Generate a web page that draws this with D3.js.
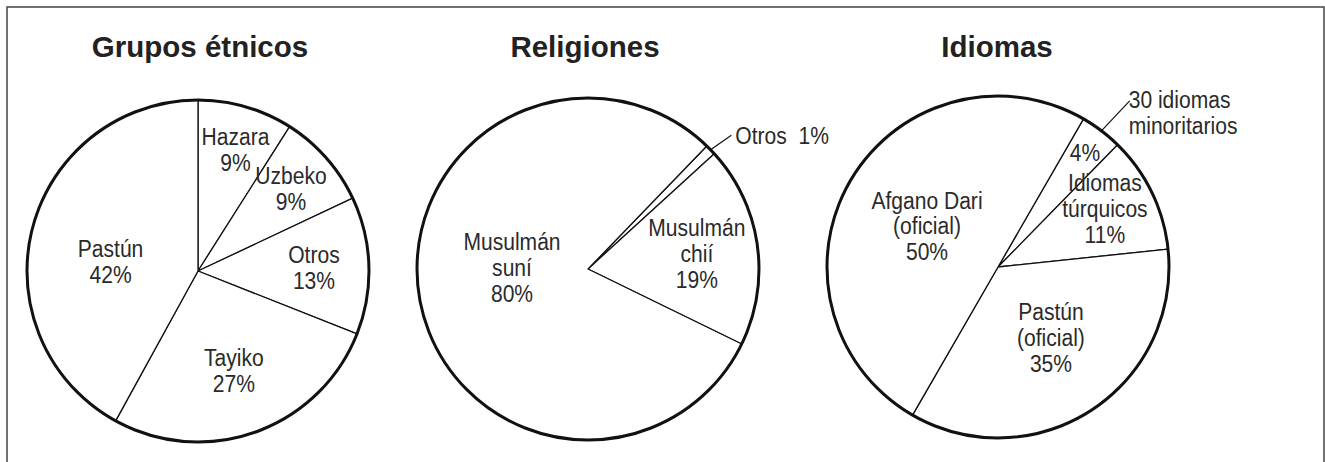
<!DOCTYPE html>
<html>
<head>
<meta charset="utf-8">
<script src="https://cdn.jsdelivr.net/npm/d3@7"></script>
<style>
  body { margin: 0; background: #fff; }
  .title { font-family: "Liberation Sans", Arial, sans-serif; font-weight: bold; font-size: 29.5px; fill: #222; }
  .lbl { font-family: "Liberation Sans", Arial, sans-serif; font-size: 24.5px; fill: #2a2a2a; }
</style>
</head>
<body>
<svg id="chart"></svg>
<script>
// data
const etnicosNames = ["Hazara", "Uzbeko", "Otros", "Tayiko", "Pastún"];
const etnicosValues = [9, 9, 13, 27, 42];

const religionNames = ["Otros", "Musulmán chií", "Musulmán suní"];
const religionValues = [1, 19, 80];

const idiomaNames = ["30 idiomas minoritarios", "Idiomas túrquicos", "Pastún (oficial)", "Afgano Dari (oficial)"];
const idiomaValues = [4, 11, 35, 50];

const titles = ["Grupos étnicos", "Religiones", "Idiomas"];

// layout
const W = 1325, H = 462;
const svg = d3.select("#chart").attr("width", W).attr("height", H);

svg.append("path")
    .attr("d", `M7,${H + 5} L7,7 L1324,7 L1324,${H + 5}`)
    .attr("fill", "none")
    .attr("stroke", "#444")
    .attr("stroke-width", 1.5);

const deg = Math.PI / 180;
const narrow = 0.86;   // condensed look for the labels
const lineH = 26;

// per-chart settings: centre, start angle, label placement (radius / angle shift / line breaks)
const charts = [
    {
        names: etnicosNames, values: etnicosValues, title: titles[0],
        cx: 198, cy: 271, r: 171, start: 0, titleX: 200, titleY: 57,
        labels: [
            { r: 127, da: 1, lines: ["Hazara", "%"] },
            { r: 124, da: 0, lines: ["Uzbeko", "%"] },
            { r: 116, da: 0, lines: ["Otros", "%"] },
            { r: 106, da: 0, lines: ["Tayiko", "%"] },
            { r: 88, da: -8, lines: ["Pastún", "%"] }
        ]
    },
    {
        names: religionNames, values: religionValues, title: titles[1],
        cx: 588, cy: 269, r: 171, start: 44, titleX: 585, titleY: 57,
        labels: [
            { outside: true, leader: 196, text: "Otros\u00a0\u00a01%", dx: 4, dy: 9, lines: [] },
            { r: 110, da: 0, lines: ["Musulmán", "chií", "%"] },
            { r: 76, da: 11, lines: ["Musulmán", "suní", "%"] }
        ]
    },
    {
        names: idiomaNames, values: idiomaValues, title: titles[2],
        cx: 998, cy: 267, r: 171, start: 30, titleX: 997, titleY: 57,
        labels: [
            { r: 144, da: 0, lines: ["%"], outside: true, leader: 212, text: ["30 idiomas", "minoritarios"], dx: -1, dy: 7 },
            { r: 122, da: -3, lines: ["Idiomas", "túrquicos", "%"] },
            { r: 88, da: -4, lines: ["Pastún", "(oficial)", "%"] },
            { r: 82, da: 0, lines: ["Afgano Dari", "(oficial)", "%"] }
        ]
    }
];

function addText(parent, x, y, lines, anchor) {
    const t = parent.append("g")
        .attr("transform", `translate(${x},${y})`)
        .append("text")
        .attr("class", "lbl")
        .attr("text-anchor", anchor)
        .attr("transform", `scale(${narrow},1)`);
    lines.forEach((s, k) => {
        t.append("tspan")
            .attr("x", 0)
            .attr("y", k * lineH)
            .text(s);
    });
}

charts.forEach(c => {
    const g = svg.append("g").attr("transform", `translate(${c.cx},${c.cy})`);

    svg.append("text")
        .attr("class", "title")
        .attr("x", c.titleX)
        .attr("y", c.titleY)
        .attr("text-anchor", "middle")
        .text(c.title);

    const pie = d3.pie().sort(null)
        .startAngle(c.start * deg)
        .endAngle(c.start * deg + 2 * Math.PI);
    const arcs = pie(c.values);

    const arc = d3.arc().innerRadius(0).outerRadius(c.r);

    g.selectAll("path.slice")
        .data(arcs)
        .enter()
        .append("path")
        .attr("class", "slice")
        .attr("d", arc)
        .attr("fill", "#fff")
        .attr("stroke", "#111")
        .attr("stroke-width", 1.3)
        .attr("stroke-linejoin", "round");

    g.append("circle")
        .attr("r", c.r)
        .attr("fill", "none")
        .attr("stroke", "#111")
        .attr("stroke-width", 3);

    arcs.forEach((a, i) => {
        const L = c.labels[i];
        const mid = (a.startAngle + a.endAngle) / 2;

        if (L.lines.length) {
            const ang = mid + L.da * deg;
            const x = L.r * Math.sin(ang);
            const y = -L.r * Math.cos(ang);
            const lines = L.lines.map(s => s === "%" ? a.data + "%" : s);
            addText(g, x, y - (lines.length - 1) * lineH / 2 + 8.5, lines, "middle");
        }

        if (L.outside) {
            const x0 = c.r * Math.sin(mid), y0 = -c.r * Math.cos(mid);
            const x1 = L.leader * Math.sin(mid + 1.2 * deg), y1 = -L.leader * Math.cos(mid + 1.2 * deg);
            g.append("line")
                .attr("x1", x0).attr("y1", y0)
                .attr("x2", x1).attr("y2", y1)
                .attr("stroke", "#111")
                .attr("stroke-width", 1.2);
            const txt = Array.isArray(L.text) ? L.text : [L.text];
            addText(g, x1 + L.dx, y1 + L.dy, txt, "start");
        }
    });
});
</script>
</body>
</html>
